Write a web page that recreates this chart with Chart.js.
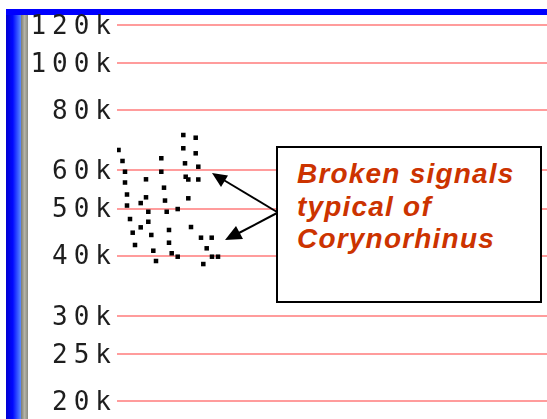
<!DOCTYPE html>
<html>
<head>
<meta charset="utf-8">
<script src="https://cdn.jsdelivr.net/npm/chart.js@4/dist/chart.umd.min.js"></script>
<style>
  html, body { margin: 0; padding: 0; background: #ffffff; }
  #wrap { position: relative; width: 547px; height: 419px; overflow: hidden; }
  #c { position: absolute; left: 0; top: 0; }
  #note {
    position: absolute; left: 276px; top: 146px; height: 143px;
    border: 2px solid #000; background: #fff;
    padding: 10px 0 0 19px; box-sizing: content-box;
    font-family: "Liberation Sans", Arial, sans-serif; font-weight: bold; font-style: italic;
    font-size: 28px; line-height: 32.5px; letter-spacing: 1.2px; color: #cc3300;
    width: 243px;
  }
  #arrows { position: absolute; left: 0; top: 0; }
</style>
</head>
<body>
<div id="wrap">
  <canvas id="c" width="547" height="419"></canvas>
  <svg id="arrows" width="547" height="419">
    <line x1="277" y1="212" x2="222" y2="179" stroke="#000" stroke-width="2"/>
    <polygon points="212,173 228,175.5 221,187" fill="#000"/>
    <line x1="277" y1="213" x2="236" y2="234.5" stroke="#000" stroke-width="2"/>
    <polygon points="225,240 236,226 243,239" fill="#000"/>
  </svg>
  <div id="note">Broken signals<br>typical of<br>Corynorhinus</div>
</div>
<script>
// Y axis tick values (Hz) and their labels
const tickValues = [20000, 25000, 30000, 40000, 50000, 60000, 80000, 100000, 120000];
const tickLabels = ['20k', '25k', '30k', '40k', '50k', '60k', '80k', '100k', '120k'];

// Call dots: time position (arbitrary units along the sequence) and frequency (Hz)
const callTime = [1.5, 5.5, 8, 8, 10, 10, 13, 15.7, 18, 23.7, 23.7, 29, 29, 31.3, 31.3, 34.3, 36.3, 39,
  44.3, 44.3, 47, 48, 49.7, 52, 52, 54.7, 60.7, 60.7, 66.3, 78.7, 66.3, 78.7, 68, 81.3, 68.7, 71.3, 81.3,
  71.3, 74, 84, 94.7, 89.7, 86.3, 95, 101];
const callFreq = [66150, 62770, 59640, 56650, 53500, 50760, 47600, 44600, 42060, 51360, 45750, 57520, 52790,
  49280, 46990, 44120, 40930, 38970, 63590, 59640, 55270, 51980, 49280, 45180, 42520, 40430, 49920, 39780,
  71040, 70130, 66690, 65110, 62080, 61080, 58230, 57470, 57470, 52540, 45820, 43550, 43550, 41400, 38410,
  39780, 39780];

const yMin = 18354, yMax = 125862, xMin = 0, xMax = 430;

const points = callTime.map((t, i) => ({ x: t, y: callFreq[i] }));

const frame = {
  id: 'frame',
  beforeDraw(chart) {
    const ctx = chart.ctx;
    ctx.save();
    ctx.fillStyle = '#ffffff';
    ctx.fillRect(0, 0, chart.width, chart.height);
    // left blue bar
    const g = ctx.createLinearGradient(6, 0, 21, 0);
    g.addColorStop(0, '#0000d0');
    g.addColorStop(0.45, '#0008ff');
    g.addColorStop(1, '#5a8cff');
    ctx.fillStyle = g;
    ctx.fillRect(6, 9, 15, chart.height - 9);
    // gray strip
    const g2 = ctx.createLinearGradient(21, 0, 28, 0);
    g2.addColorStop(0, '#7c7c74');
    g2.addColorStop(0.5, '#b4b4a8');
    g2.addColorStop(1, '#8a8a80');
    ctx.fillStyle = g2;
    ctx.fillRect(21, 15, 7, chart.height - 15);
    // top blue bar
    ctx.fillStyle = '#0000ff';
    ctx.fillRect(6, 9, chart.width - 6, 6);
    ctx.restore();
    ctx.letterSpacing = '6px';
  },
  afterDraw(chart) {
    chart.ctx.letterSpacing = '0px';
  }
};

new Chart(document.getElementById('c'), {
  type: 'scatter',
  data: {
    datasets: [{
      data: points,
      pointStyle: 'rect',
      pointRadius: 3.2,
      pointHoverRadius: 3.2,
      backgroundColor: '#000000',
      borderWidth: 0
    }]
  },
  options: {
    responsive: false,
    animation: false,
    events: [],
    layout: { autoPadding: false, padding: { top: 15, left: 0, right: 0, bottom: 0 } },
    plugins: { legend: { display: false }, tooltip: { enabled: false } },
    scales: {
      x: { type: 'linear', min: xMin, max: xMax, display: false },
      y: {
        type: 'logarithmic',
        position: 'left',
        min: yMin,
        max: yMax,
        afterBuildTicks(scale) { scale.ticks = tickValues.map(v => ({ value: v })); },
        afterFit(scale) {
          scale.width = 117;
          scale.paddingTop = 0;
          scale.paddingBottom = 0;
        },
        border: { display: false },
        grid: { color: '#ff9c9c', lineWidth: 2, drawTicks: false },
        ticks: {
          padding: 0,
          labelOffset: 2,
          color: '#1e1e1e',
          font: { family: 'DejaVu Sans Mono', size: 26 },
          callback(value) {
            const i = tickValues.indexOf(value);
            return i >= 0 ? tickLabels[i] : '';
          }
        }
      }
    }
  },
  plugins: [frame]
});
</script>
</body>
</html>
